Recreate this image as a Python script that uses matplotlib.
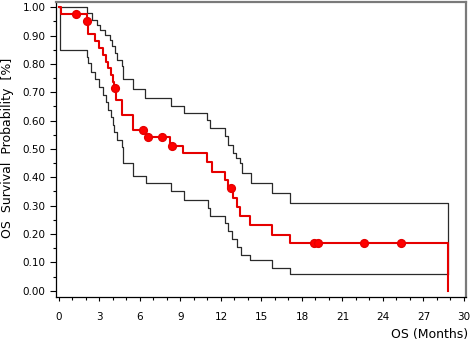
import matplotlib
matplotlib.use("Agg")
import matplotlib.pyplot as plt
from matplotlib.ticker import MultipleLocator, FormatStrFormatter

# Kaplan-Meier estimate (months, survival probability)
km_t = [0, 0.12, 2.05, 2.15, 2.67, 2.96, 3.27, 3.47, 3.65, 3.83, 3.97, 4.07, 4.22, 4.69, 5.5,
        6.45, 8.2, 9.2, 10.94, 11.3, 12.3, 12.55, 12.9, 13.16, 13.4, 14.15, 15.75, 17.1, 28.8]
km_s = [1.0, 0.977, 0.953, 0.905, 0.882, 0.855, 0.832, 0.808, 0.785, 0.761, 0.737, 0.714, 0.673, 0.620, 0.568,
        0.543, 0.512, 0.485, 0.455, 0.420, 0.391, 0.361, 0.326, 0.296, 0.264, 0.232, 0.197, 0.167, 0.0]

# censored observations
cens_t = [1.25, 2.1, 4.15, 6.25, 6.6, 7.65, 8.35, 12.74, 18.9, 19.2, 22.6, 25.3]
cens_s = [0.977, 0.953, 0.714, 0.568, 0.543, 0.543, 0.512, 0.361, 0.167, 0.167, 0.167, 0.167]

# upper confidence bound
up_t = [0, 2.07, 2.42, 2.79, 3.04, 3.4, 3.78, 3.9, 4.15, 4.27, 4.64, 4.77, 5.5, 6.37, 8.27, 9.26,
        11.0, 11.19, 12.3, 12.54, 12.9, 13.1, 13.4, 13.53, 14.2, 15.75, 17.1, 28.8]
up_s = [1.0, 0.979, 0.955, 0.938, 0.920, 0.902, 0.885, 0.862, 0.838, 0.815, 0.791, 0.747, 0.712, 0.680, 0.652, 0.626,
        0.602, 0.573, 0.545, 0.514, 0.485, 0.467, 0.450, 0.414, 0.381, 0.345, 0.309, 0.061]

# lower confidence bound
lo_t = [0, 0.1, 2.05, 2.17, 2.4, 2.67, 2.96, 3.27, 3.47, 3.65, 3.83, 3.97, 4.07, 4.27, 4.64, 4.77, 5.5,
        6.44, 8.27, 9.26, 11.04, 11.2, 12.3, 12.54, 12.79, 13.2, 13.46, 14.15, 15.75, 17.1, 28.8]
lo_s = [1.0, 0.849, 0.826, 0.802, 0.773, 0.745, 0.718, 0.690, 0.665, 0.638, 0.612, 0.585, 0.560, 0.532, 0.508, 0.45, 0.405,
        0.379, 0.352, 0.320, 0.293, 0.265, 0.238, 0.21, 0.182, 0.155, 0.126, 0.108, 0.081, 0.060, 0.060]

plt.rcParams['font.family'] = ['DejaVu Sans']

fig = plt.figure(figsize=(4.72, 3.44), dpi=100)
ax = fig.add_axes([0.1186, 0.138, 0.8687, 0.8576])

ci_col = '#2a2a2a'
ax.step(up_t, up_s, where='post', color=ci_col, lw=0.9, zorder=2)
ax.step(lo_t, lo_s, where='post', color=ci_col, lw=0.9, zorder=2)
ax.step(km_t, km_s, where='post', color='#e60000', lw=1.5, zorder=3)
ax.plot(cens_t, cens_s, 'o', color='#ff0000', ms=5.6, mec='#e60000', zorder=4)

ax.set_xlim(-0.22, 30.15)
ax.set_ylim(-0.0205, 1.02)

ax.xaxis.set_major_locator(MultipleLocator(3))
ax.xaxis.set_minor_locator(MultipleLocator(1))
ax.yaxis.set_major_locator(MultipleLocator(0.1))
ax.yaxis.set_minor_locator(MultipleLocator(0.05))
ax.yaxis.set_major_formatter(FormatStrFormatter('%.2f'))

ax.tick_params(axis='both', which='both', direction='out', colors='black', width=0.8,
               top=False, right=False, labelsize=7.5)
ax.tick_params(axis='x', which='major', length=3, pad=8)
ax.tick_params(axis='x', which='minor', length=2)
ax.tick_params(axis='y', which='major', length=4, pad=3.5)
ax.tick_params(axis='y', which='minor', length=2)

for side in ['left', 'bottom']:
    ax.spines[side].set_color('black')
    ax.spines[side].set_linewidth(0.9)
for side in ['top', 'right']:
    ax.spines[side].set_color('#7a7a7a')
    ax.spines[side].set_linewidth(1.6)

fig.text(0.992, 0.028, 'OS (Months)', ha='right', va='center', fontsize=9)
fig.text(0.016, 0.57, 'OS  Survival  Probability  [%]', rotation=90, ha='center', va='center', fontsize=9)

fig.savefig('out.png', dpi=100)
